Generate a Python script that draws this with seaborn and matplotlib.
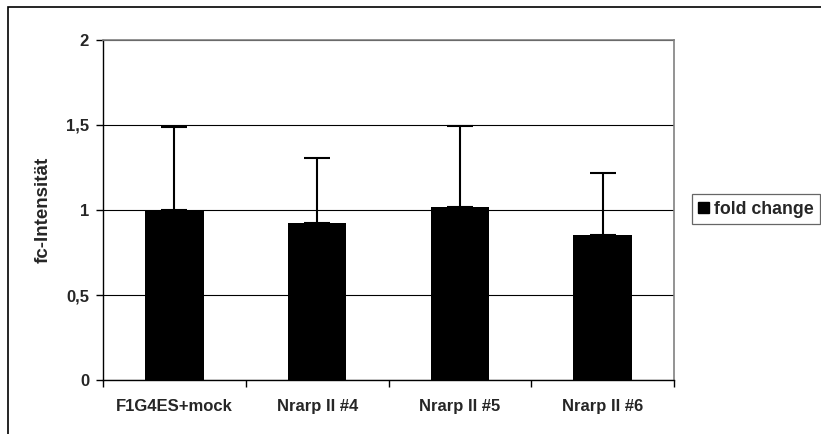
import matplotlib
matplotlib.use("Agg")
import matplotlib.pyplot as plt
import matplotlib.patches as mpatches
from matplotlib.ticker import FixedLocator, NullFormatter
import seaborn as sns
import pandas as pd

# Data
categories = ["F1G4ES+mock", "Nrarp II #4", "Nrarp II #5", "Nrarp II #6"]
fold_change = [1.00, 0.925, 1.02, 0.85]
error_up = [0.49, 0.383, 0.474, 0.366]
y_ticks = [0, 0.5, 1, 1.5, 2]
y_tick_labels = ["0", "0,5", "1", "1,5", "2"]
series_name = "fold change"
y_label = "fc-Intensität"

sns.set_style("white")
plt.rcParams["font.family"] = ["Liberation Sans", "DejaVu Sans"]

df = pd.DataFrame({"group": categories, "value": fold_change})

fig = plt.figure(figsize=(8.21, 4.34), dpi=100)
ax = fig.add_axes([103 / 821, 1 - 380 / 434, (674 - 103) / 821, (380 - 40) / 434])

sns.barplot(data=df, x="group", y="value", color="black", saturation=1,
            width=0.41, errorbar=None, ax=ax, zorder=3)
for p in ax.patches:
    p.set_linewidth(0)

# one-sided (upper) error bars
xs = list(range(len(categories)))
ax.errorbar(xs, fold_change, yerr=[[0] * len(categories), error_up],
            fmt="none", ecolor="black", elinewidth=1.5, capsize=9.5,
            capthick=1.5, zorder=4)

ax.set_xlim(-0.5, len(categories) - 0.5)
ax.set_ylim(0, 2)
ax.set_yticks(y_ticks)
ax.set_yticklabels(y_tick_labels, fontsize=12, fontweight="bold")
ax.yaxis.grid(True, color="black", linewidth=0.8)
ax.set_axisbelow(True)

# category labels at centers, tick marks on category boundaries
ax.set_xticks(xs)
ax.set_xticklabels(categories, fontsize=12, fontweight="bold")
ax.tick_params(axis="x", which="major", length=0, pad=14)
ax.xaxis.set_minor_locator(FixedLocator([i - 0.5 for i in range(len(categories) + 1)]))
ax.xaxis.set_minor_formatter(NullFormatter())
ax.tick_params(axis="x", which="minor", length=5, width=1, color="black",
               direction="out", bottom=True)
ax.tick_params(axis="y", which="major", length=5, width=1, color="black",
               direction="out", left=True, pad=5)

ax.set_xlabel("")
ax.set_ylabel(y_label, fontsize=13.5, fontweight="bold", labelpad=10)

for side in ["left", "bottom"]:
    ax.spines[side].set_color("black")
    ax.spines[side].set_linewidth(1)
for side in ["top", "right"]:
    ax.spines[side].set_visible(True)
    ax.spines[side].set_color("#808080")
    ax.spines[side].set_linewidth(1.2)

handle = mpatches.Patch(facecolor="black", edgecolor="black", label=series_name)
leg = fig.legend(handles=[handle], loc="center left",
                 bbox_to_anchor=(692 / 821, 1 - 209 / 434),
                 frameon=True, fancybox=False, shadow=False,
                 prop={"size": 12.8, "weight": "bold"},
                 handlelength=0.6, handleheight=0.6, handletextpad=0.3,
                 borderpad=0.35, borderaxespad=0)
leg.get_frame().set_edgecolor("#404040")
leg.get_frame().set_linewidth(0.9)

# outer chart frame
frame = mpatches.Rectangle((8 / 821, -0.05), 1.1, 1 - 7 / 434 + 0.05,
                           transform=fig.transFigure, fill=False,
                           edgecolor="black", linewidth=1.2, clip_on=False)
fig.patches.append(frame)

fig.savefig("out.png", dpi=100)
